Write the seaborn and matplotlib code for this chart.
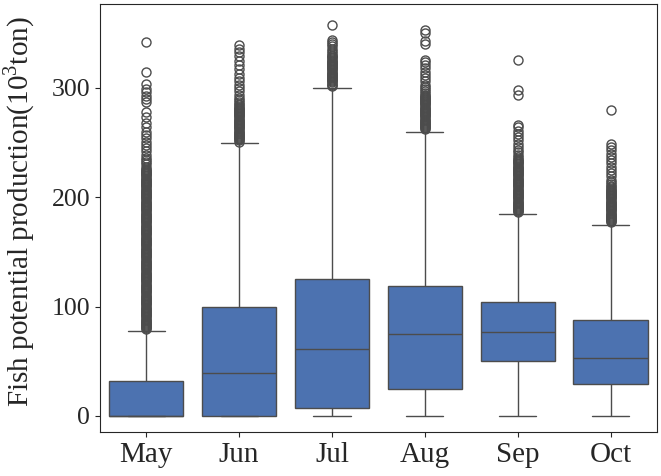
import numpy as np
import pandas as pd
import seaborn as sns
import matplotlib.pyplot as plt

# box statistics (10^3 ton)
months = ["May", "Jun", "Jul", "Aug", "Sep", "Oct"]
whis_lo = [0, 0, 0, 0, 0, 0]
q1 = [0, 0, 7.6, 24.7, 50.6, 29.3]
median = [0, 39, 61.3, 75, 76.6, 52.8]
q3 = [31.4, 100, 125.3, 119.2, 104.6, 87.8]
whis_hi = [77.8, 249.5, 299.8, 260, 185, 175]

# outliers above the upper whisker (dense runs read as closely packed points)
may_out = [79, 80, 81, 82, 83, 84, 85, 86, 87, 88, 89, 90, 91, 92, 93, 94, 95,
           96, 97, 98, 99, 100, 101, 102, 103, 104, 105, 106, 107, 108, 109, 110,
           111, 112, 113, 114, 115, 116, 117, 118, 119, 120, 121, 122, 123, 124,
           125, 126, 127, 128, 129, 130, 131, 132, 133, 134, 135, 136, 137, 138,
           139, 140, 141, 142, 143, 144, 145, 146, 147, 148, 149, 150, 151, 152,
           153, 154, 155, 156, 157, 158, 159, 160, 161, 162, 163, 164, 165, 166,
           167, 168, 169, 170, 171, 172, 173, 174, 175, 176, 177, 178, 179, 180,
           181, 182, 183, 184, 185, 186, 187, 188, 189, 190, 191, 192, 193, 194,
           195, 196, 197, 198, 199, 200, 201, 202, 203, 204, 205, 206, 207, 208,
           209, 210, 211, 212, 213, 214, 215, 216, 217, 218, 219, 220, 221, 222,
           223, 224, 225, 226, 228, 230, 232, 234, 236, 239, 242, 245, 248, 251,
           254, 257, 260, 264, 268, 273, 278, 287, 290, 293, 296, 299, 304, 315,
           342]
jun_out = [251, 252, 253, 254, 255, 256, 257, 258, 259, 260, 261, 262, 263, 264,
           265, 266, 267, 268, 269, 270, 271, 272, 273, 274, 275, 276, 277, 278,
           279, 280, 281, 282, 283, 284, 285, 287, 289, 291, 294, 297, 300, 303,
           306, 309, 313, 317, 321, 325, 329, 333, 336, 339]
jul_out = [302, 303, 304, 305, 306, 307, 308, 309, 310, 311, 312, 313, 314, 315,
           316, 317, 318, 319, 320, 321, 322, 323, 324, 325, 326, 327, 328, 329,
           330, 332, 334, 336, 338, 340, 342, 344, 358]
aug_out = [262, 263, 264, 265, 266, 267, 268, 269, 270, 271, 272, 273, 274, 275,
           276, 277, 278, 279, 280, 281, 282, 283, 284, 285, 286, 287, 288, 289,
           290, 291, 292, 293, 294, 295, 297, 299, 301, 303, 306, 309, 312, 315,
           318, 321, 324, 326, 340, 343, 350, 353]
sep_out = [186.5, 187, 188, 189, 190, 191, 192, 193, 194, 195, 196, 197, 198,
           199, 200, 201, 202, 203, 204, 205, 206, 207, 208, 209, 210, 211, 212,
           213, 214, 215, 216, 217, 218, 219, 220, 221, 222, 223, 224, 225, 226,
           227, 228, 229, 230, 231, 232, 233, 234, 235, 237, 239, 241, 243, 246,
           249, 252, 255, 258, 261, 264, 266, 294, 298, 326]
oct_out = [177, 178, 179, 180, 181, 182, 183, 184, 185, 186, 187, 188, 189, 190,
           191, 192, 193, 194, 195, 196, 197, 198, 199, 200, 201, 202, 203, 204,
           205, 206, 207, 208, 209, 210, 212, 214, 216, 219, 222, 225, 228, 231,
           234, 237, 240, 243, 246, 249, 280]
outliers = [may_out, jun_out, jul_out, aug_out, sep_out, oct_out]

# long table whose quartiles/whiskers reproduce the stats above
rows = []
for i, m in enumerate(months):
    core = np.repeat([whis_lo[i], q1[i], median[i], q3[i], whis_hi[i]], 1000)
    vals = np.concatenate([core, outliers[i]])
    rows.append(pd.DataFrame({"month": m, "value": vals}))
df = pd.concat(rows, ignore_index=True)

sns.set_style("ticks")
plt.rcParams["font.family"] = ["Liberation Serif", "DejaVu Serif"]
plt.rcParams["mathtext.fontset"] = "custom"
plt.rcParams["mathtext.rm"] = "Liberation Serif"

fig, ax = plt.subplots(figsize=(6.61, 4.76), dpi=100)
fig.subplots_adjust(left=0.151, right=0.994, bottom=0.092, top=0.992)

sns.boxplot(data=df, x="month", y="value", order=months, color="#4C72B0",
            saturation=1, width=0.8, fliersize=6.5, ax=ax)

ax.set_ylim(-15, 377)
ax.set_yticks([0, 100, 200, 300])
ax.set_xlabel("")
ax.set_ylabel(r"Fish potential production(10$^3$ton)", fontsize=21)
ax.yaxis.set_label_coords(-0.113, 0.515)
ax.tick_params(axis="y", labelsize=18.5)
ax.tick_params(axis="x", labelsize=21)

plt.savefig("out.png", dpi=100)
